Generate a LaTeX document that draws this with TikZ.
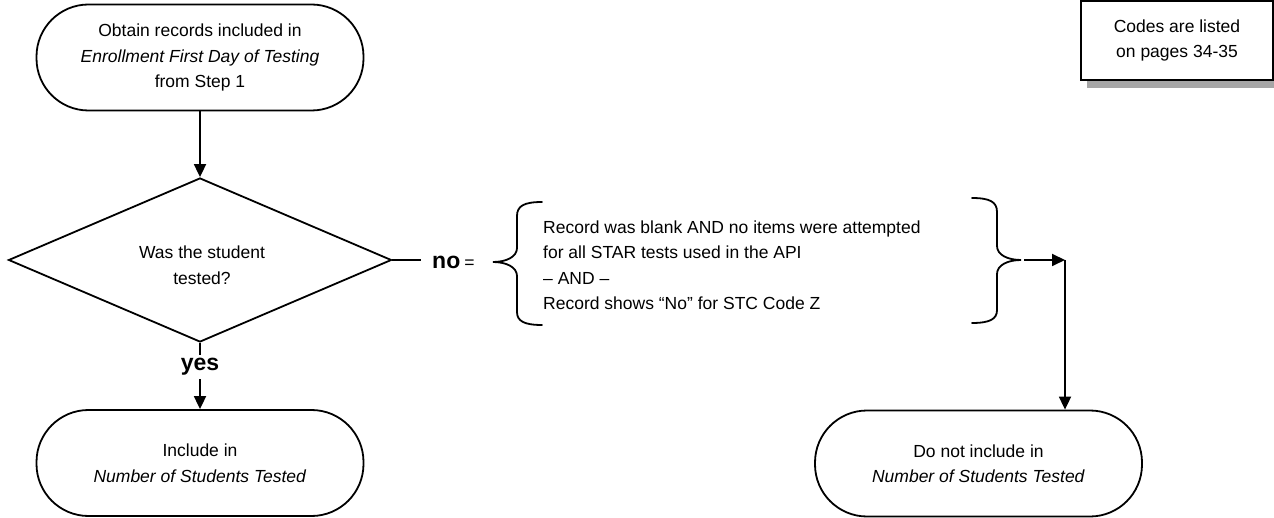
\documentclass[tikz,border=0pt]{standalone}
\usepackage{fontspec}
\setmainfont{Liberation Sans}
\usetikzlibrary{shapes.geometric,arrows.meta}
\begin{document}
\begin{tikzpicture}[x=1pt,y=-1pt,
  txt/.style={font=\fontsize{17.5}{25.5}\selectfont, align=center},
  term/.style={txt, draw, line width=1.8pt, rounded corners=52pt, minimum width=327pt, minimum height=106pt, inner sep=0pt},
  lbl/.style={font=\fontsize{23}{25}\selectfont\bfseries},
  conn/.style={line width=1.8pt},
  arr/.style={conn, -{Triangle[length=13pt,width=12pt]}},
  brace/.style={line width=1.8pt, line cap=round}]
\useasboundingbox (0,0) rectangle (1274,518);
% note box with shadow
\fill[gray!70] (1087,80) rectangle (1274,88);
\node[txt, draw, line width=1.8pt, fill=white, minimum width=192pt, minimum height=79pt, inner sep=0pt] (note) at (1177,40.5) {Codes are listed\\on pages 34-35};
% terminals
\node[term] (start) at (200,57.5) {Obtain records included in\\\textit{Enrollment First Day of Testing}\\from Step 1};
\node[draw, line width=1.8pt, shape=diamond, aspect=2.33, minimum width=383pt, minimum height=164pt, inner sep=0pt] (dec) at (200,260) {};
\node[txt] (dectxt) at (202,265) {Was the student\\tested?};
\node[term] (inc) at (200,463) {Include in\\\textit{Number of Students Tested}};
\node[term] (exc) at (978.5,463.5) {Do not include in\\\textit{Number of Students Tested}};
% connectors
\draw[arr] (start.south) -- (dec.north);
\node[lbl] (yes) at (200,367) {yes};
\draw[conn] (dec.south) -- (yes.north);
\draw[arr] (yes.south) -- (inc.north);
\coordinate (noend) at (421,260);
\draw[conn] (dec.east) -- (noend);
\node[anchor=west, inner sep=0pt] (no) at (432,262) {{\fontsize{23}{25}\selectfont\bfseries no}\hspace{4pt}{\fontsize{17.5}{20}\selectfont=}};
% left brace
\coordinate (lbtip) at (493,262);
\draw[brace] (542,202) .. controls (524,202) and (517,206) .. (517,216) -- (517,248)
  .. controls (517,257) and (506,262) .. (lbtip)
  .. controls (506,262) and (517,267) .. (517,276) -- (517,312)
  .. controls (517,321) and (524,325) .. (542,325);
\node[txt, align=left, anchor=west, inner sep=0pt] (cond) at (543,265) {Record was blank AND no items were attempted\\for all STAR tests used in the API\\– AND –\\Record shows “No” for STC Code Z};
% right brace
\coordinate (rbtip) at (1021,260);
\draw[brace] (972,198) .. controls (990,198) and (997,202) .. (997,212) -- (997,246)
  .. controls (997,255) and (1008,260) .. (rbtip)
  .. controls (1008,260) and (997,265) .. (997,274) -- (997,310)
  .. controls (997,319) and (990,323) .. (972,323);
\coordinate (corner) at (1065,260);
\draw[arr] (1024,260) -- (corner);
\draw[arr] (corner) -- (exc.north -| corner);
\end{tikzpicture}
\end{document}
